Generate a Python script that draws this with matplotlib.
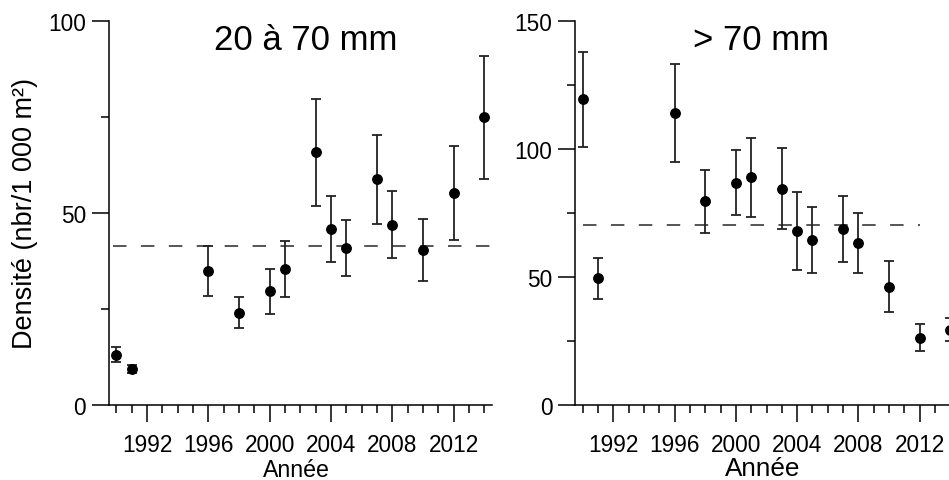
import matplotlib
matplotlib.use("Agg")
import matplotlib.pyplot as plt
from matplotlib.ticker import FixedLocator, MultipleLocator

plt.rcParams['font.family'] = ['Liberation Sans', 'DejaVu Sans']
plt.rcParams['lines.scale_dashes'] = False

# ---- data ----
years = [1990, 1991, 1996, 1998, 2000, 2001, 2003, 2004, 2005, 2007, 2008, 2010, 2012, 2014]

dens_small = [13.1, 9.4, 34.8, 24.0, 29.6, 35.4, 65.8, 45.8, 40.9, 58.8, 46.9, 40.4, 55.2, 74.9]
err_small = [2.0, 1.1, 6.5, 4.0, 5.9, 7.2, 14.0, 8.6, 7.2, 11.6, 8.7, 8.0, 12.2, 16.1]
mean_small = 41.5

dens_large = [119.4, 49.4, 114.0, 79.5, 86.8, 88.9, 84.4, 68.0, 64.4, 68.7, 63.1, 46.1, 26.2, 29.3]
err_large = [18.5, 8.1, 19.3, 12.4, 12.6, 15.5, 15.9, 15.2, 13.0, 12.8, 11.8, 10.0, 5.4, 4.5]
mean_large = 70.2

major_years = [1992, 1996, 2000, 2004, 2008, 2012]
titles = ["20 à 70 mm", "> 70 mm"]
xlabel = "Année"
ylabel = "Densité (nbr/1 000 m²)"

W, H = 949, 481
fig = plt.figure(figsize=(W / 100, H / 100), dpi=100)

def px_axes(x0, y0_top, x1, y1_bottom):
    return [x0 / W, (H - y1_bottom) / H, (x1 - x0) / W, (y1_bottom - y0_top) / H]

ax1 = fig.add_axes(px_axes(108.7, 22, 492, 406))
ax2 = fig.add_axes(px_axes(575, 22, 958, 405.7))

panels = [
    (ax1, dens_small, err_small, mean_small, 100, (1989.8, 2014.5), titles[0], 0.515, 16.7, -0.184),
    (ax2, dens_large, err_large, mean_large, 150, (1990, 2012), titles[1], 0.485, 18.8, -0.182),
]

for ax, dens, err, mean, ytop, (m0, m1), title, tx, xl_size, xl_y in panels:
    ax.plot([m0, m1], [mean, mean], color='#555555', lw=1.4,
            dashes=(9.7, 10.4), zorder=1)
    ax.errorbar(years, dens, yerr=err, fmt='o', color='black', ecolor='#222222',
                elinewidth=1.3, capsize=3.6, capthick=1.3, markersize=6.8,
                zorder=3, clip_on=False)
    ax.set_xlim(1989.5, 2014.5)
    ax.set_ylim(0, ytop)
    for s in ('top', 'right'):
        ax.spines[s].set_visible(False)
    for s in ('left', 'bottom'):
        ax.spines[s].set_linewidth(1.1)
    ax.xaxis.set_major_locator(FixedLocator(major_years))
    ax.xaxis.set_minor_locator(MultipleLocator(1))
    ax.yaxis.set_major_locator(MultipleLocator(50))
    ax.yaxis.set_minor_locator(MultipleLocator(25))
    ax.tick_params(axis='both', which='major', length=12.2, width=1.1,
                   labelsize=16.3, direction='out')
    ax.tick_params(axis='both', which='minor', length=5.5, width=1.1, direction='out')
    ax.tick_params(axis='x', which='major', pad=8.0)
    ax.tick_params(axis='y', which='major', pad=4.0)
    ax.text(tx, 0.927, title, transform=ax.transAxes, ha='center',
            va='baseline', fontsize=25)
    ax.text(0.49, xl_y, xlabel, transform=ax.transAxes, ha='center',
            va='baseline', fontsize=xl_size)

fig.text(25 / W, (H - 213.5) / H, ylabel, rotation=90, ha='center',
         va='center', fontsize=19.5)

fig.savefig("out.png", dpi=100)
